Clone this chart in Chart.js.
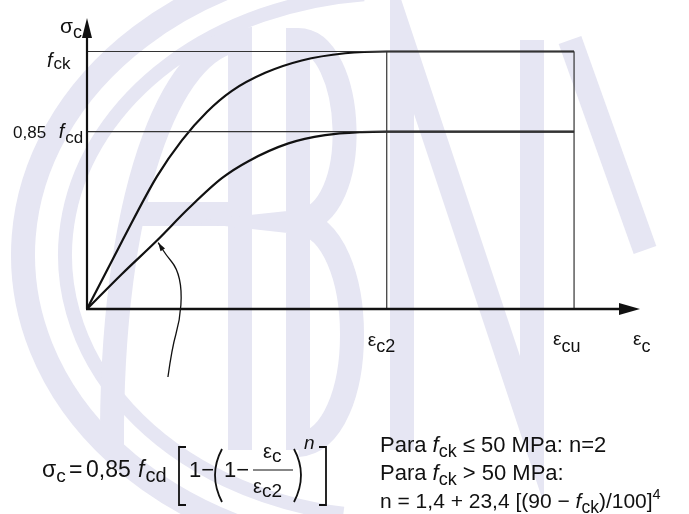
<!DOCTYPE html>
<html>
<head>
<meta charset="utf-8">
<script src="https://cdn.jsdelivr.net/npm/chart.js@4.4.1/dist/chart.umd.min.js"></script>
<style>
  html, body { margin: 0; padding: 0; background: #fff; }
  #wrap { width: 689px; height: 514px; position: relative; }
</style>
</head>
<body>
<div id="wrap"><canvas id="diagram" width="689" height="514"></canvas></div>
<script>
// strain in units where eps_c2 = 2 (the drawing is not to scale beyond eps_c2)
const EPS_C2 = 2.0;
const EPS_CU = 3.25;
const X_END = 3.69;   // tip of the eps_c arrow
const Y_END = 1.13;   // tip of the sigma_c arrow

// stress levels, relative to f_ck
const FCK = 1.0;
const FCD_085 = 0.689;

// upper curve (f_ck)
const upperStrain = [0, 0.233, 0.467, 0.633, 0.80, 0.967, 1.189, 1.433, 1.722, 2.0, 3.25];
const upperStress = [0, 0.262, 0.515, 0.655, 0.765, 0.847, 0.917, 0.965, 0.993, 1.0, 1.0];

// lower curve (0,85 f_cd)
const lowerStrain = [0, 0.233, 0.467, 0.677, 0.90, 1.077, 1.344, 1.589, 1.833, 2.0, 3.25];
const lowerStress = [0, 0.136, 0.266, 0.39, 0.508, 0.574, 0.643, 0.675, 0.687, 0.689, 0.689];

// hand-drawn pointer to the lower curve (tail -> head)
const pointerStrain = [0.54, 0.567, 0.62, 0.633, 0.60, 0.527, 0.475];
const pointerStress = [-0.264, -0.151, -0.043, 0.074, 0.159, 0.21, 0.258];

const toPts = (xs, ys) => xs.map((x, i) => ({ x: x, y: ys[i] }));

const FONT = '"Liberation Sans", Arial, Helvetica, sans-serif';
const INK = '#111';

// draw a run of text pieces: {t, size, it, dy, gap}
function richText(ctx, x, y, parts) {
  let cx = x;
  parts.forEach(p => {
    ctx.font = (p.it ? 'italic ' : '') + (p.size || 20) + 'px ' + FONT;
    ctx.fillText(p.t, cx, y + (p.dy || 0));
    cx += ctx.measureText(p.t).width + (p.gap || 0);
  });
  return cx;
}

// light ABNT logo in the background
const watermark = {
  id: 'watermark',
  beforeDraw(chart) {
    const ctx = chart.ctx;
    ctx.save();
    ctx.fillStyle = '#fff';
    ctx.fillRect(0, 0, chart.width, chart.height);
    ctx.strokeStyle = '#e6e6f3';
    ctx.lineCap = 'butt';
    // rings
    ctx.lineWidth = 24;
    ctx.beginPath(); ctx.ellipse(395, 255, 372, 300, 0, 0.52 * Math.PI, 1.5 * Math.PI); ctx.stroke();
    ctx.lineWidth = 14;
    ctx.beginPath(); ctx.ellipse(395, 255, 330, 262, 0, 0.55 * Math.PI, 1.47 * Math.PI); ctx.stroke();
    // A
    ctx.lineWidth = 24;
    ctx.beginPath(); ctx.moveTo(112, 450); ctx.bezierCurveTo(110, 200, 170, 45, 240, 40); ctx.lineTo(240, 450); ctx.stroke();
    ctx.beginPath(); ctx.moveTo(132, 214); ctx.lineTo(240, 214); ctx.stroke();
    // B
    ctx.beginPath(); ctx.moveTo(298, 450); ctx.lineTo(298, 40);
    ctx.bezierCurveTo(355, 40, 365, 215, 298, 222);
    ctx.bezierCurveTo(370, 230, 370, 440, 298, 445); ctx.stroke();
    // N
    ctx.beginPath(); ctx.moveTo(402, 450); ctx.lineTo(402, 40); ctx.lineTo(532, 430); ctx.lineTo(532, 40); ctx.stroke();
    // T
    ctx.beginPath(); ctx.moveTo(570, 40); ctx.lineTo(645, 250); ctx.stroke();
    ctx.restore();
  }
};

// axes, arrows, labels, pointer and the formula block
const annotations = {
  id: 'annotations',
  afterDatasetsDraw(chart) {
    const ctx = chart.ctx;
    const xs = chart.scales.x, ys = chart.scales.y;
    const px = v => xs.getPixelForValue(v);
    const py = v => ys.getPixelForValue(v);
    const x0 = px(0), y0 = py(0);

    ctx.save();
    ctx.strokeStyle = INK;
    ctx.fillStyle = INK;

    // eps_c axis
    const xTip = px(X_END);
    ctx.lineWidth = 2.6;
    ctx.beginPath(); ctx.moveTo(x0 - 1, y0); ctx.lineTo(xTip - 18, y0); ctx.stroke();
    ctx.beginPath(); ctx.moveTo(xTip, y0); ctx.lineTo(xTip - 21, y0 - 6); ctx.lineTo(xTip - 21, y0 + 6); ctx.closePath(); ctx.fill();

    // sigma_c axis
    const yTip = py(Y_END);
    ctx.lineWidth = 2.2;
    ctx.beginPath(); ctx.moveTo(x0, y0); ctx.lineTo(x0, yTip + 16); ctx.stroke();
    ctx.beginPath(); ctx.moveTo(x0, yTip); ctx.lineTo(x0 - 5, yTip + 20); ctx.lineTo(x0 + 5, yTip + 20); ctx.closePath(); ctx.fill();

    // pointer
    ctx.lineWidth = 1.3;
    ctx.beginPath();
    ctx.moveTo(px(pointerStrain[0]), py(pointerStress[0]));
    for (let i = 1; i < pointerStrain.length - 1; i++) {
      const mx = (px(pointerStrain[i]) + px(pointerStrain[i + 1])) / 2;
      const my = (py(pointerStress[i]) + py(pointerStress[i + 1])) / 2;
      ctx.quadraticCurveTo(px(pointerStrain[i]), py(pointerStress[i]), mx, my);
    }
    const n = pointerStrain.length;
    const hx = px(pointerStrain[n - 1]), hy = py(pointerStress[n - 1]);
    ctx.lineTo(hx, hy);
    ctx.stroke();
    const ang = Math.atan2(hy - py(pointerStress[n - 2]), hx - px(pointerStrain[n - 2]));
    ctx.beginPath();
    ctx.moveTo(hx, hy);
    ctx.lineTo(hx - 9 * Math.cos(ang - 0.3), hy - 9 * Math.sin(ang - 0.3));
    ctx.lineTo(hx - 9 * Math.cos(ang + 0.3), hy - 9 * Math.sin(ang + 0.3));
    ctx.closePath(); ctx.fill();

    // axis labels
    ctx.textBaseline = 'alphabetic';
    richText(ctx, x0 - 27, yTip + 15, [{ t: 'σ', size: 21 }, { t: 'c', size: 18, dy: 5 }]);
    richText(ctx, x0 - 40, py(FCK) + 16, [{ t: 'f', size: 20, it: true, gap: 1 }, { t: 'ck', size: 17, dy: 2 }]);
    richText(ctx, x0 - 74, py(FCD_085) + 6, [{ t: '0,85 ', size: 17, gap: 8 }, { t: 'f', size: 20, it: true, gap: 1 }, { t: 'cd', size: 17, dy: 5 }]);
    richText(ctx, px(EPS_C2) - 19, y0 + 37, [{ t: 'ε', size: 19 }, { t: 'c2', size: 18, dy: 6 }]);
    richText(ctx, px(EPS_CU) - 21, y0 + 36, [{ t: 'ε', size: 19 }, { t: 'cu', size: 18, dy: 7 }]);
    richText(ctx, xTip - 7, y0 + 36, [{ t: 'ε', size: 19 }, { t: 'c', size: 18, dy: 7 }]);

    // formula
    const fy = 477;
    richText(ctx, 42, fy, [{ t: 'σ', size: 23 }, { t: 'c', size: 19, dy: 5 }]);
    richText(ctx, 69, fy, [{ t: '=', size: 23 }]);
    richText(ctx, 86, fy, [{ t: '0,85', size: 23 }]);
    richText(ctx, 138, fy, [{ t: 'f', size: 23, it: true, gap: 1 }, { t: 'cd', size: 20, dy: 5 }]);
    ctx.lineWidth = 1.8;
    // [ ]
    ctx.beginPath(); ctx.moveTo(186, 447); ctx.lineTo(179, 447); ctx.lineTo(179, 505); ctx.lineTo(186, 505); ctx.stroke();
    ctx.beginPath(); ctx.moveTo(319, 447); ctx.lineTo(326, 447); ctx.lineTo(326, 505); ctx.lineTo(319, 505); ctx.stroke();
    richText(ctx, 189, fy, [{ t: '1−', size: 22 }]);
    // ( )
    ctx.beginPath(); ctx.moveTo(222, 449); ctx.quadraticCurveTo(208, 475, 222, 502); ctx.stroke();
    ctx.beginPath(); ctx.moveTo(294, 449); ctx.quadraticCurveTo(308, 475, 294, 502); ctx.stroke();
    richText(ctx, 224, fy, [{ t: '1−', size: 22 }]);
    // fraction
    richText(ctx, 263, 458, [{ t: 'ε', size: 20 }, { t: 'c', size: 19, dy: 4 }]);
    ctx.lineWidth = 1.2;
    ctx.beginPath(); ctx.moveTo(253, 470); ctx.lineTo(293, 470); ctx.stroke();
    richText(ctx, 253, 493, [{ t: 'ε', size: 20 }, { t: 'c2', size: 19, dy: 4 }]);
    richText(ctx, 304, 449, [{ t: 'n', size: 19, it: true }]);

    // conditions for n
    const tx = 380;
    richText(ctx, tx, 452, [{ t: 'Para ', size: 22 }, { t: 'f', size: 22, it: true }, { t: 'ck', size: 18, dy: 5 },
      { t: ' ≤ 50 MPa: n=2', size: 22 }]);
    richText(ctx, tx, 480, [{ t: 'Para ', size: 22 }, { t: 'f', size: 22, it: true }, { t: 'ck', size: 18, dy: 5 },
      { t: ' > 50 MPa:', size: 22 }]);
    richText(ctx, tx, 508, [{ t: 'n = 1,4 + 23,4 [(90 − ', size: 21 }, { t: 'f', size: 21, it: true }, { t: 'ck', size: 17.5, dy: 5 },
      { t: ')/100]', size: 21 }, { t: '4', size: 14.5, dy: -9 }]);
    ctx.restore();
  }
};

const guideStyle = { borderColor: '#333', borderWidth: 1.2, pointRadius: 0, showLine: true, tension: 0 };
const curveStyle = { borderColor: INK, borderWidth: 2.2, pointRadius: 0, showLine: true, cubicInterpolationMode: 'monotone' };

new Chart(document.getElementById('diagram'), {
  type: 'scatter',
  data: {
    datasets: [
      Object.assign({ data: toPts([0, EPS_CU], [FCK, FCK]) }, guideStyle),
      Object.assign({ data: toPts([0, EPS_CU], [FCD_085, FCD_085]) }, guideStyle),
      Object.assign({ data: toPts([EPS_C2, EPS_C2], [0, FCK]) }, guideStyle),
      Object.assign({ data: toPts([EPS_CU, EPS_CU], [0, FCK]) }, guideStyle),
      Object.assign({ data: toPts(upperStrain, upperStress) }, curveStyle),
      Object.assign({ data: toPts(lowerStrain, lowerStress) }, curveStyle)
    ]
  },
  options: {
    responsive: false,
    animation: false,
    layout: { padding: { left: 87, right: 49, top: 18, bottom: 205 } },
    plugins: { legend: { display: false }, tooltip: { enabled: false } },
    scales: {
      x: { type: 'linear', min: 0, max: X_END, display: false },
      y: { type: 'linear', min: 0, max: Y_END, display: false }
    }
  },
  plugins: [watermark, annotations]
});
</script>
</body>
</html>
